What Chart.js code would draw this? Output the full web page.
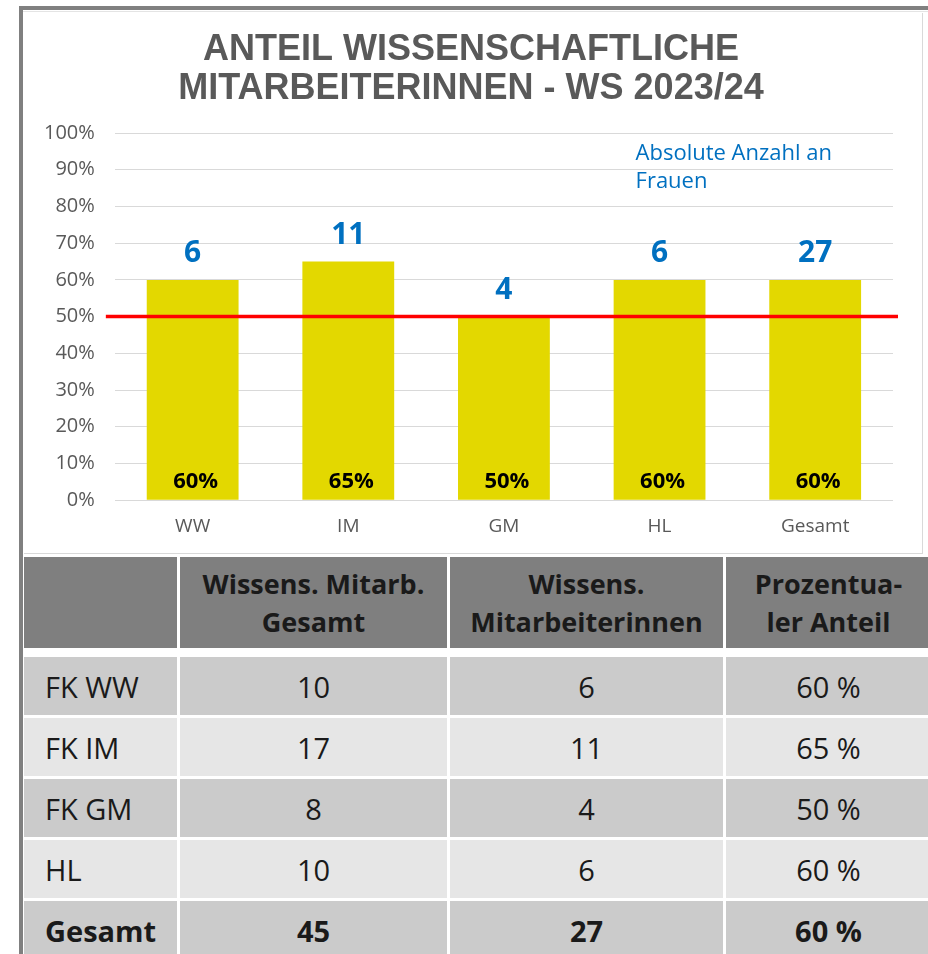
<!DOCTYPE html>
<html lang="de">
<head>
<meta charset="utf-8">
<script src="https://cdn.jsdelivr.net/npm/chart.js@4"></script>
<style>
  html, body { margin: 0; padding: 0; background: #fff; overflow: hidden; }
  body { width: 928px; height: 954px; position: relative; }
  .frame { position: absolute; left: 19px; top: 6px; width: 920px; height: 960px;
           border-left: 4px solid #808080; border-top: 4px solid #808080; }
  .chartBox { position: absolute; left: 24px; top: 13px; width: 898px; height: 540px;
              border-right: 1px solid #d9d9d9; border-bottom: 1px solid #d9d9d9; background: #fff; }
  .sheetLine { position: absolute; left: 23px; top: 11px; width: 905px; height: 1px; background: #e4e4e4; }
  table { position: absolute; left: 21px; top: 554px; border-collapse: separate; border-spacing: 3px;
          table-layout: fixed; width: 913px; font-family: "Open Sans", sans-serif; color: #1a1a1a; }
  th { background: #7f7f7f; height: 91px; font-size: 27px; font-weight: bold; line-height: 38px; padding: 0; }
  td { height: 58px; font-size: 29px; text-align: center; padding: 0; }
  td.lbl { text-align: left; padding-left: 21px; }
  tr.dark td { background: #cbcbcb; }
  tr.light td { background: #e6e6e6; }
  tr.total td { font-weight: bold; }
  tr.spacer td { height: 3px; background: #fff; }
</style>
</head>
<body>
<div class="frame"></div>
<div class="sheetLine"></div>
<div class="chartBox"><canvas id="shareChart"></canvas></div>
<table>
  <colgroup><col style="width:153px"><col style="width:267px"><col style="width:273px"><col style="width:205px"></colgroup>
  <thead id="tableHead"></thead>
  <tbody id="tableBody"></tbody>
</table>
<script>
// chart data
const categories = ['WW', 'IM', 'GM', 'HL', 'Gesamt'];
const shareValues = [60, 65, 50, 60, 60];
const womenCounts = [6, 11, 4, 6, 27];
const targetShare = 50;
const chartTitle = ['ANTEIL WISSENSCHAFTLICHE', 'MITARBEITERINNEN - WS 2023/24'];
const noteLines = ['Absolute Anzahl an', 'Frauen'];

// table data
const headers = ['', 'Wissens. Mitarb.<br>Gesamt', 'Wissens.<br>Mitarbeiterinnen', 'Prozentua-<br>ler Anteil'];
const rowLabels = ['FK WW', 'FK IM', 'FK GM', 'HL', 'Gesamt'];
const staffTotal = [10, 17, 8, 10, 45];
const staffWomen = [6, 11, 4, 6, 27];
const sharePercent = [60, 65, 50, 60, 60];

document.getElementById('tableHead').innerHTML =
  '<tr>' + headers.map(h => `<th>${h}</th>`).join('') + '</tr>' +
  '<tr class="spacer"><td></td><td></td><td></td><td></td></tr>';
const tbody = document.getElementById('tableBody');
rowLabels.forEach((r, i) => {
  const cls = (i === rowLabels.length - 1 ? 'dark total' : (i % 2 === 0 ? 'dark' : 'light'));
  tbody.innerHTML += `<tr class="${cls}">
    <td class="lbl">${r}</td>
    <td>${staffTotal[i]}</td>
    <td>${staffWomen[i]}</td>
    <td>${sharePercent[i]} %</td>
  </tr>`;
});

const labelPlugin = {
  id: 'labels',
  afterDatasetsDraw(chart) {
    const ctx = chart.ctx;
    const x = chart.scales.x, y = chart.scales.y;
    const area = chart.chartArea;
    const meta = chart.getDatasetMeta(0);

    ctx.save();
    // title, centred on the whole chart box
    ctx.textAlign = 'center';
    ctx.textBaseline = 'middle';
    ctx.fillStyle = '#595959';
    ctx.font = 'bold 36px "Liberation Sans", Arial';
    ctx.fillText(chartTitle[0], chart.width / 2 - 2, 37);
    ctx.fillText(chartTitle[1], chart.width / 2 - 2, 76);

    // 50 % line
    const yLine = y.getPixelForValue(targetShare);
    ctx.strokeStyle = '#ff0000';
    ctx.lineWidth = 3.5;
    ctx.beginPath();
    ctx.moveTo(area.left - 9, yLine);
    ctx.lineTo(area.right + 5, yLine);
    ctx.stroke();

    meta.data.forEach((bar, i) => {
      ctx.fillStyle = '#0070c0';
      ctx.font = 'bold 30px "Open Sans"';
      ctx.fillText(womenCounts[i], bar.x, bar.y - 26);
      ctx.fillStyle = '#000';
      ctx.font = 'bold 22px "Open Sans"';
      ctx.fillText(shareValues[i] + '%', bar.x + 3, y.getPixelForValue(0) - 18);
    });

    // note
    ctx.textAlign = 'left';
    ctx.fillStyle = '#0070c0';
    ctx.font = '22px "Open Sans"';
    const nx = x.getPixelForValue(3) - 24;
    ctx.fillText(noteLines[0], nx, y.getPixelForValue(94.3));
    ctx.fillText(noteLines[1], nx, y.getPixelForValue(86.7));
    ctx.restore();
  }
};

new Chart(document.getElementById('shareChart'), {
  type: 'bar',
  data: {
    labels: categories,
    datasets: [{
      data: shareValues,
      backgroundColor: '#e3d800',
      barPercentage: 0.59,
      categoryPercentage: 1
    }]
  },
  options: {
    responsive: true,
    maintainAspectRatio: false,
    animation: false,
    layout: { padding: { left: 0, right: 29, top: 120, bottom: 0 } },
    plugins: {
      legend: { display: false },
      tooltip: { enabled: false },
      title: { display: false }
    },
    scales: {
      y: {
        min: 0, max: 100,
        ticks: { stepSize: 10, callback: v => v + '%', color: '#595959', font: { family: '"Open Sans"', size: 20 }, padding: 20 },
        grid: { color: '#d9d9d9', drawTicks: false },
        border: { display: false }
      },
      x: {
        ticks: { color: '#595959', font: { family: '"Open Sans"', size: 19 }, padding: 15 },
        grid: { display: false, drawTicks: false },
        border: { display: false }
      }
    }
  },
  plugins: [labelPlugin]
});
</script>
</body>
</html>
